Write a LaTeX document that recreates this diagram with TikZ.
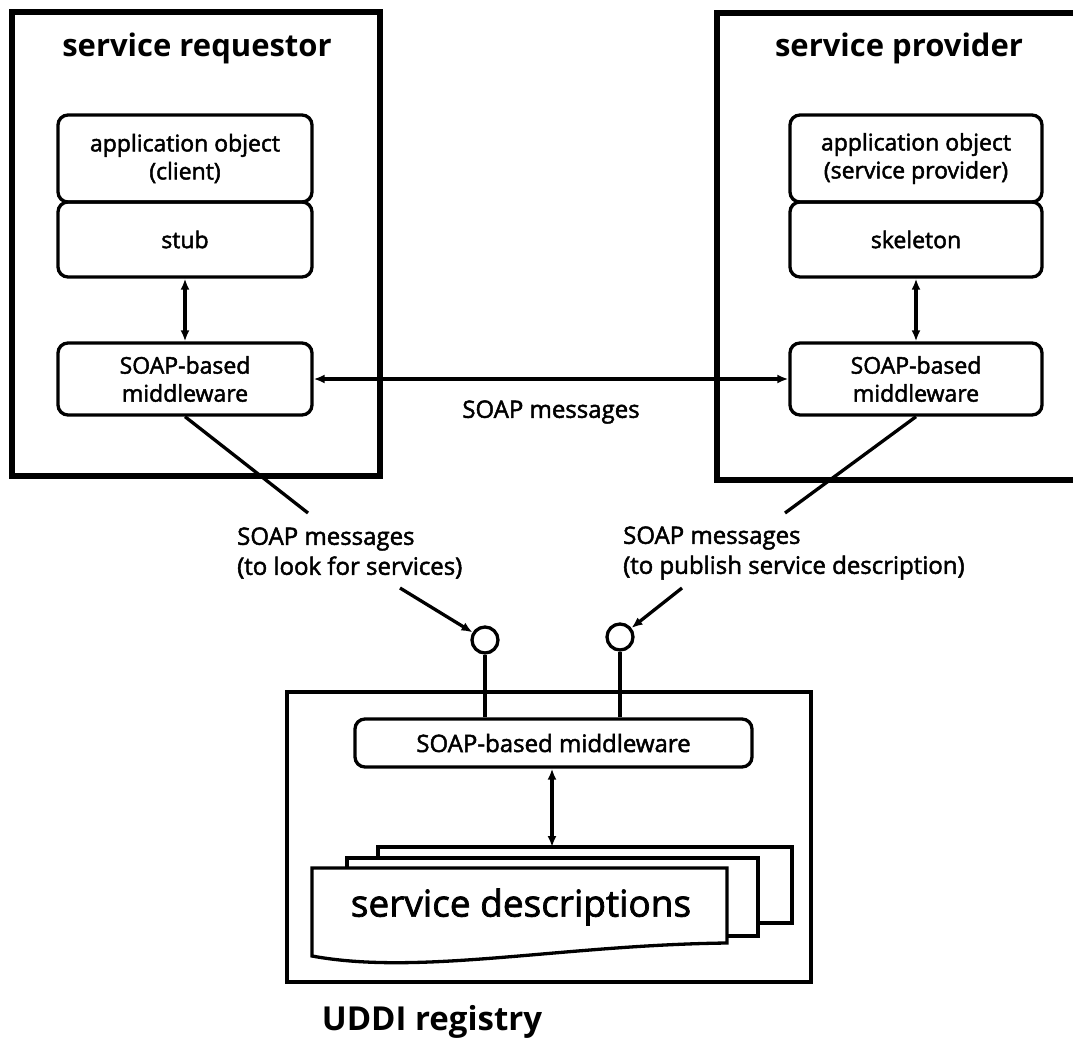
\documentclass[tikz,border=0pt]{standalone}
\usepackage{fontspec}
\setmainfont{Open Sans}
\newfontfamily\medfont[FakeBold=2]{Open Sans}
\usetikzlibrary{arrows.meta}
\begin{document}
\begin{tikzpicture}[x=1pt,y=-1pt,
  outerbox/.style={draw, line width=5.5pt},
  rbox/.style={draw, line width=3.3pt, rounded corners=10pt, align=center, inner sep=0pt,
     font=\medfont\fontsize{23}{28}\selectfont},
  conn/.style={line width=3.3pt},
  dbl/.style={conn, {Latex[length=11pt,width=9pt]}-{Latex[length=11pt,width=9pt]}},
  sgl/.style={conn, -{Latex[length=11pt,width=9pt]}},
  titletext/.style={font=\fontsize{31}{36}\selectfont\bfseries},
  lbl/.style={font=\medfont\fontsize{24}{30}\selectfont, align=left, inner sep=0pt},
  port/.style={draw, circle, line width=3.3pt, minimum size=26pt, inner sep=0pt},
  doc/.style={draw, line width=3.3pt, fill=white}
]
\useasboundingbox (0,0) rectangle (1073,1041);

% service requestor
\node[outerbox, minimum width=368pt, minimum height=464pt] (req) at (196,244) {};
\node[titletext] (reqt) at (197,48) {service requestor};
\node[rbox, minimum width=254pt, minimum height=87pt] (appL) at (185,158.5) {application object\\(client)};
\node[rbox, minimum width=254pt, minimum height=75pt] (stub) at (185,239.5) {stub};
\node[rbox, minimum width=254pt, minimum height=72pt] (mwL) at (185,379) {SOAP-based\\middleware};

% service provider
\node[outerbox, minimum width=373pt, minimum height=467pt] (prov) at (903.5,246.5) {};
\node[titletext] (provt) at (899,48) {service provider};
\node[rbox, minimum width=252pt, minimum height=87pt] (appR) at (916,158.5) {application object\\(service provider)};
\node[rbox, minimum width=252pt, minimum height=75pt] (skel) at (916,239.5) {skeleton};
\node[rbox, minimum width=252pt, minimum height=72pt] (mwR) at (916,379) {SOAP-based\\middleware};

\draw[dbl] (stub.south) -- (mwL.north);
\draw[dbl] (skel.south) -- (mwR.north);
\draw[dbl] (mwL.east) -- (mwR.west);
\node[lbl] (soapmsg) at (551,412) {SOAP messages};

% diagonals and labels
\coordinate (e1) at (308,513);
\coordinate (e2) at (785,513);
\draw[conn] (mwL.south) -- (e1);
\draw[conn] (mwR.south) -- (e2);
\node[lbl, anchor=west] (lblL) at (237,553) {SOAP messages\\(to look for services)};
\node[lbl, anchor=west] (lblR) at (623,553) {SOAP messages\\(to publish service description)};

% UDDI registry
\node[draw, line width=3.3pt, minimum width=524pt, minimum height=290pt] (uddi) at (549,837) {};
\node[rbox, minimum width=397pt, minimum height=48pt, font=\medfont\fontsize{24}{28}\selectfont] (mwU) at (553.5,743) {SOAP-based middleware};
\node[port] (c1) at (485,640) {};
\node[port] (c2) at (620,637) {};
\draw[conn] (c1.south) -- (c1.south |- mwU.north);
\draw[conn] (c2.south) -- (c2.south |- mwU.north);
\coordinate (s1) at (400,588);
\coordinate (s2) at (682,588);
\draw[sgl] (s1) -- (c1);
\draw[sgl] (s2) -- (c2);

% document stack
\draw[doc] (378,847) rectangle (792,923);
\draw[doc] (347,858) rectangle (758,936);
\draw[doc] (312,868) -- (727,868) -- (727,943) .. controls (560,945) and (420,976) .. (312,956) -- cycle;
\node[font=\medfont\fontsize{37}{42}\selectfont, inner sep=0pt] (sd) at (521,907) {service descriptions};
\coordinate (backtop) at (552,847);
\draw[dbl] (mwU.south -| backtop) -- (backtop);

\node[titletext, font=\fontsize{33}{38}\selectfont\bfseries] (uddit) at (432,1022) {UDDI registry};
\end{tikzpicture}
\end{document}
